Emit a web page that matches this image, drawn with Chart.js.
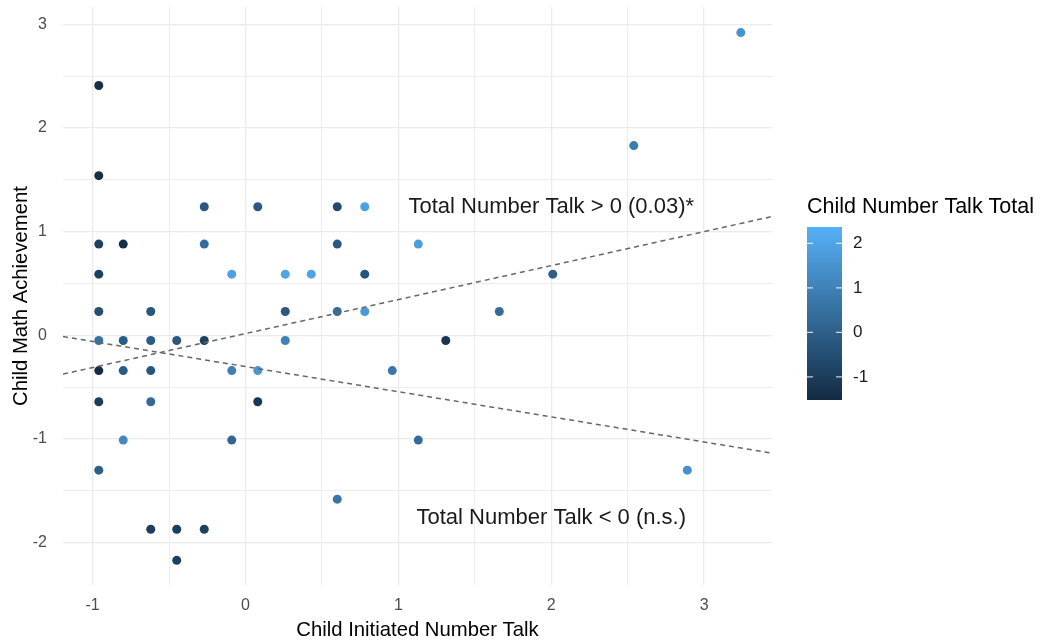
<!DOCTYPE html>
<html>
<head>
<meta charset="utf-8">
<script src="https://cdn.jsdelivr.net/npm/chart.js@4.4.0/dist/chart.umd.min.js"></script>
<style>
    html, body { margin: 0; padding: 0; background: #fff; }
    #wrap { width: 1041px; height: 643px; }
</style>
</head>
<body>
<div id="wrap"><canvas id="talkChart" width="1041" height="643"></canvas></div>
<script>
// child initiated number talk (x), math achievement (y), total number talk (colour)
var talkX = [-0.96, -0.96, -0.27, 0.08, 0.60, 0.78, -0.96, -0.80, -0.27, 0.60,
             1.13, -0.96, -0.09, 0.26, 0.43, 0.78, 3.24, 2.54, 2.01, -0.96,
             -0.62, 0.26, 0.60, 0.78, -0.96, -0.80, -0.62, -0.45, -0.27, 0.26,
             -0.96, -0.80, -0.62, -0.09, 0.08, 0.96, -0.96, -0.62, 0.08, -0.80,
             -0.09, 1.13, -0.96, 0.60, -0.62, -0.45, -0.27, -0.45, 1.66, 1.31,
             2.89];
var mathY = [2.41, 1.54, 1.24, 1.24, 1.24, 1.24, 0.88, 0.88, 0.88, 0.88,
             0.88, 0.59, 0.59, 0.59, 0.59, 0.59, 2.92, 1.83, 0.59, 0.23,
             0.23, 0.23, 0.23, 0.23, -0.05, -0.05, -0.05, -0.05, -0.05, -0.05,
             -0.34, -0.34, -0.34, -0.34, -0.34, -0.34, -0.64, -0.64, -0.64, -1.01,
             -1.01, -1.01, -1.30, -1.58, -1.87, -1.87, -1.87, -2.17, 0.23, -0.05,
             -1.30];
var talkTotal = [-1.4, -1.4, -0.2, -0.2, -0.6, 1.9, -0.9, -1.4, 0.4, -0.2,
                 1.8, -0.9, 1.9, 2.0, 2.0, -0.3, 1.5, 0.8, 0.0, -0.5,
                 -0.3, -0.2, 0.4, 1.7, 0.5, -0.1, -0.1, -0.2, -0.9, 1.0,
                 -1.5, -0.1, -0.3, 0.9, 1.6, 0.7, -1.0, 0.3, -1.2, 1.2,
                 0.2, 0.4, 0.0, 0.6, -1.0, -1.0, -0.9, -0.9, 0.4, -1.2,
                 1.4];

// fitted lines (ends at the panel edges)
var posLineX = [-1.194, 3.444];
var posLineY = [-0.374, 1.146];
var negLineX = [-1.194, 3.444];
var negLineY = [-0.012, -1.136];

var noteText = ["Total Number Talk > 0 (0.03)*", "Total Number Talk < 0 (n.s.)"];
var noteX = [2.0, 2.0];
var noteY = [1.24, -1.76];

var xTicks = [-1, -0.5, 0, 0.5, 1, 1.5, 2, 2.5, 3];
var yTicks = [-2, -1.5, -1, -0.5, 0, 0.5, 1, 1.5, 2, 2.5, 3];
var colorTicks = [-1, 0, 1, 2];
var colorMin = -1.52, colorMax = 2.37;

var lowRGB = [19, 43, 67];
var highRGB = [86, 177, 247];
var fontName = '"Liberation Sans", Arial, sans-serif';

function talkColor(v) {
    var t = (v - colorMin) / (colorMax - colorMin);
    t = Math.max(0, Math.min(1, t));
    var c = [];
    for (var i = 0; i < 3; i++) {
        c.push(Math.round(lowRGB[i] + (highRGB[i] - lowRGB[i]) * t));
    }
    return "rgb(" + c.join(",") + ")";
}

var points = [], pointColors = [];
for (var i = 0; i < talkX.length; i++) {
    points.push({ x: talkX[i], y: mathY[i] });
    pointColors.push(talkColor(talkTotal[i]));
}

function lineData(xs, ys) {
    var d = [];
    for (var i = 0; i < xs.length; i++) d.push({ x: xs[i], y: ys[i] });
    return d;
}

var notePlugin = {
    id: "notes",
    afterDatasetsDraw: function (chart) {
        var c = chart.ctx, xs = chart.scales.x, ys = chart.scales.y;
        c.save();
        c.font = "22px " + fontName;
        c.fillStyle = "#1a1a1a";
        c.textAlign = "center";
        c.textBaseline = "middle";
        for (var i = 0; i < noteText.length; i++) {
            c.fillText(noteText[i], xs.getPixelForValue(noteX[i]), ys.getPixelForValue(noteY[i]));
        }
        c.restore();
    }
};

var colorbarPlugin = {
    id: "colorbar",
    afterDraw: function (chart) {
        var c = chart.ctx;
        var left = chart.chartArea.right + 35, top = 227, w = 35, h = 173;
        c.save();
        var grad = c.createLinearGradient(0, top + h, 0, top);
        grad.addColorStop(0, talkColor(colorMin));
        grad.addColorStop(1, talkColor(colorMax));
        c.fillStyle = grad;
        c.fillRect(left, top, w, h);

        c.font = "17px " + fontName;
        c.fillStyle = "#1a1a1a";
        c.textAlign = "left";
        c.textBaseline = "middle";
        c.strokeStyle = "rgba(255,255,255,0.75)";
        c.lineWidth = 1.2;
        for (var i = 0; i < colorTicks.length; i++) {
            var v = colorTicks[i];
            var y = top + h - (v - colorMin) / (colorMax - colorMin) * h;
            c.beginPath();
            c.moveTo(left, y); c.lineTo(left + 6, y);
            c.moveTo(left + w - 6, y); c.lineTo(left + w, y);
            c.stroke();
            c.fillText(String(v), left + w + 11, y);
        }

        c.font = "21.5px " + fontName;
        c.fillStyle = "#000";
        c.textBaseline = "alphabetic";
        c.fillText("Child Number Talk Total", left, 213);
        c.restore();
    }
};

function noLabelPadding(s) {
    s.paddingTop = 0;
    s.paddingBottom = 0;
    s.paddingLeft = 0;
    s.paddingRight = 0;
}

var ctx = document.getElementById("talkChart").getContext("2d");
new Chart(ctx, {
    type: "scatter",
    data: {
        datasets: [{
            data: points,
            pointBackgroundColor: pointColors,
            pointBorderWidth: 0,
            pointRadius: 4.5,
            order: 1
        }, {
            data: lineData(posLineX, posLineY),
            showLine: true,
            borderColor: "#666666",
            borderWidth: 1.5,
            borderDash: [5, 4],
            pointRadius: 0,
            order: 0
        }, {
            data: lineData(negLineX, negLineY),
            showLine: true,
            borderColor: "#666666",
            borderWidth: 1.5,
            borderDash: [5, 4],
            pointRadius: 0,
            order: 0
        }]
    },
    options: {
        responsive: false,
        animation: false,
        devicePixelRatio: 1,
        layout: { padding: { top: 7, right: 269, left: 0, bottom: 0 } },
        plugins: {
            legend: { display: false },
            tooltip: { enabled: false }
        },
        scales: {
            x: {
                type: "linear",
                min: -1.194,
                max: 3.444,
                afterBuildTicks: function (s) {
                    s.ticks = xTicks.map(function (v) { return { value: v }; });
                },
                afterFit: function (s) { s.height = 58; noLabelPadding(s); },
                border: { display: false },
                grid: {
                    color: "#ebebeb",
                    drawTicks: false,
                    lineWidth: function (c) {
                        return c.tick && Number.isInteger(c.tick.value) ? 1.3 : 0.9;
                    }
                },
                ticks: {
                    autoSkip: false,
                    maxRotation: 0,
                    padding: 11,
                    color: "#4d4d4d",
                    font: { family: fontName, size: 16 },
                    callback: function (v) { return Number.isInteger(v) ? String(v) : ""; }
                },
                title: {
                    display: true,
                    text: "Child Initiated Number Talk",
                    color: "#000",
                    font: { family: fontName, size: 20.3 },
                    padding: { top: 0, bottom: 0 }
                }
            },
            y: {
                type: "linear",
                min: -2.408,
                max: 3.167,
                afterBuildTicks: function (s) {
                    s.ticks = yTicks.map(function (v) { return { value: v }; });
                },
                afterFit: function (s) { s.width = 63; noLabelPadding(s); },
                border: { display: false },
                grid: {
                    color: "#ebebeb",
                    drawTicks: false,
                    lineWidth: function (c) {
                        return c.tick && Number.isInteger(c.tick.value) ? 1.3 : 0.9;
                    }
                },
                ticks: {
                    autoSkip: false,
                    padding: 16,
                    color: "#4d4d4d",
                    font: { family: fontName, size: 16 },
                    callback: function (v) { return Number.isInteger(v) ? String(v) : ""; }
                },
                title: {
                    display: true,
                    text: "Child Math Achievement",
                    color: "#000",
                    font: { family: fontName, size: 20.3 },
                    padding: { top: 9, bottom: 0 }
                }
            }
        }
    },
    plugins: [notePlugin, colorbarPlugin]
});
</script>
</body>
</html>
